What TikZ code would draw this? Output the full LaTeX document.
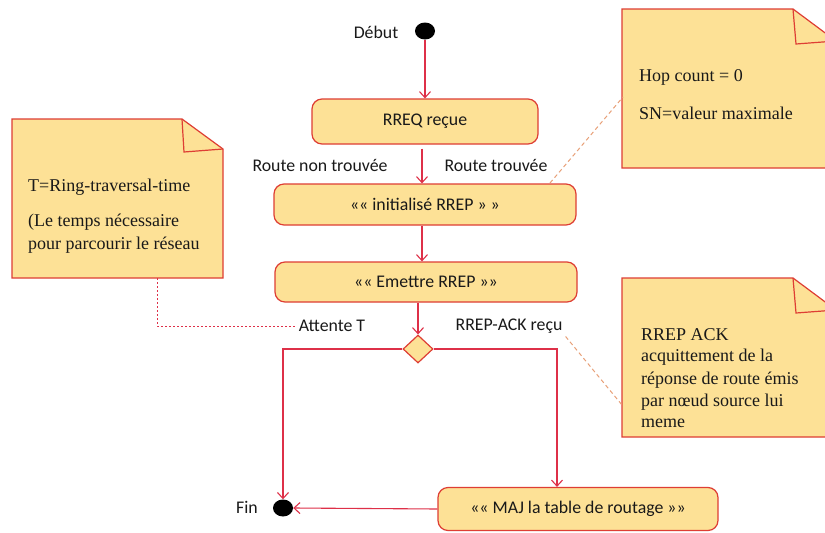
\documentclass[tikz,border=0pt]{standalone}
\usepackage{fontspec}
\setmainfont{Liberation Serif}
\newfontfamily\calibri{Carlito}
\usetikzlibrary{arrows.meta,shapes.geometric}
\definecolor{boxfill}{RGB}{253,225,150}
\definecolor{boxline}{RGB}{222,62,52}
\definecolor{flow}{RGB}{222,48,72}
\definecolor{notelink}{RGB}{232,160,120}
\definecolor{ink}{RGB}{25,25,25}

\begin{document}
\begin{tikzpicture}[x=1pt,y=-1pt,
  action/.style={draw=boxline, fill=boxfill, rounded corners=10pt, line width=1.2pt,
    inner sep=0pt, font=\calibri\fontsize{17.8}{21}\selectfont, text=ink},
  pseudostate/.style={ellipse, fill=black, minimum width=20pt, minimum height=17pt, inner sep=0pt},
  decision/.style={diamond, draw=boxline, fill=boxfill, line width=1.2pt,
    minimum width=30pt, minimum height=28pt, inner sep=0pt},
  guard/.style={font=\calibri\fontsize{17.8}{21}\selectfont, text=ink, inner sep=3pt},
  flowarrow/.style={draw=flow, line width=1.1pt, -{Straight Barb[length=6pt,width=11pt]}},
  notebody/.style={draw=boxline, fill=boxfill, line width=1.2pt, line join=miter},
  notefold/.style={draw=boxline, line width=1.2pt},
  notetext/.style={anchor=west, inner sep=0pt, text=ink, font=\fontsize{18}{22}\selectfont},
  notedot/.style={draw=flow, line width=1pt, dash pattern=on 2pt off 2pt},
  notedash/.style={draw=notelink, line width=1pt, dash pattern=on 4pt off 3pt}
]
\useasboundingbox (0,0) rectangle (825,533);
\fill[white] (0,0) rectangle (825,533);
\clip (0,0) rectangle (825,533);

% ---- comment notes ----
\path[notebody] (12,119) -- (182,119) -- (223,149) -- (223,278) -- (12,278) -- cycle;
\path[notefold] (182,119) -- (184,152) -- (223,149);
\node[notetext] (ringT)   at (28,187) {T=Ring-traversal-time};
\node[notetext] (ringL1)  at (28,222) {(Le temps nécessaire};
\node[notetext] (ringL2)  at (28,245) {pour parcourir le réseau};

\path[notebody] (622,9) -- (793,9) -- (836,41) -- (836,168) -- (622,168) -- cycle;
\path[notefold] (793,9) -- (796,44) -- (836,41);
\node[notetext] (hop) at (639,77)  {Hop count = 0};
\node[notetext] (sn)  at (639,113) {SN=valeur maximale};

\path[notebody] (622,278) -- (793,278) -- (836,310) -- (836,437) -- (622,437) -- cycle;
\path[notefold] (793,278) -- (796,313) -- (836,310);
\node[notetext] (ack1) at (641,335) {RREP ACK};
\node[notetext] (ack2) at (641,357) {acquittement de la};
\node[notetext] (ack3) at (641,380) {réponse de route émis};
\node[notetext] (ack4) at (641,402) {par nœud source lui};
\node[notetext] (ack5) at (641,423) {meme};

% ---- activity nodes ----
\node[pseudostate] (start) at (425,31) {};
\node[guard, anchor=center] (debut) at (376,32) {Début};

\node[action, minimum width=226pt, minimum height=45pt] (rreq)  at (425,121.5) {RREQ reçue};
\node[action, minimum width=302pt, minimum height=41pt] (init)  at (425,204.5) {«« initialisé RREP » »};
\node[action, minimum width=302pt, minimum height=40pt] (emet)  at (426,282)   {«« Emettre RREP »»};
\node[decision] (dec) at (418,349) {};
\node[pseudostate] (fin) at (283,508) {};
\node[guard] (finlbl) at (247,507) {Fin};
\node[action, minimum width=280pt, minimum height=43pt] (maj) at (578,509) {«« MAJ la table de routage »»};

% ---- guards ----
\node[guard] (nonfound) at (320,165) {Route non trouvée};
\node[guard] (found)    at (496,165) {Route trouvée};
\node[guard] (attente)  at (332,326) {Attente T};
\node[guard] (ackrecu)  at (509,326) {RREP-ACK reçu};

% ---- control flow ----
\draw[flowarrow] (start) -- (rreq);
\draw[flowarrow] ([xshift=-3pt,yshift=-4pt]rreq.south) -- ([xshift=-3pt]init.north);
\draw[flowarrow] ([xshift=-3pt]init.south) -- ([xshift=-4pt]emet.north);
\draw[flowarrow] ([xshift=-8pt]emet.south) -- (dec.north);
\draw[flowarrow] (dec.west) -| (fin.north);
\draw[flowarrow] (dec.east) -| ([xshift=-21pt]maj.north);
\draw[flowarrow] (maj.west) -- (fin.east);

% ---- note anchors ----
\coordinate (ringtail) at (157,278);
\coordinate (hoptip)   at (623,97);
\coordinate (initcorner) at (550,183);
\coordinate (acktip)   at (622,405);
\draw[notedot] (ringtail) |- (attente.west);
\draw[notedash] (initcorner) -- (hoptip);
\draw[notedash] (ackrecu.south east) -- (acktip);
\end{tikzpicture}
\end{document}
